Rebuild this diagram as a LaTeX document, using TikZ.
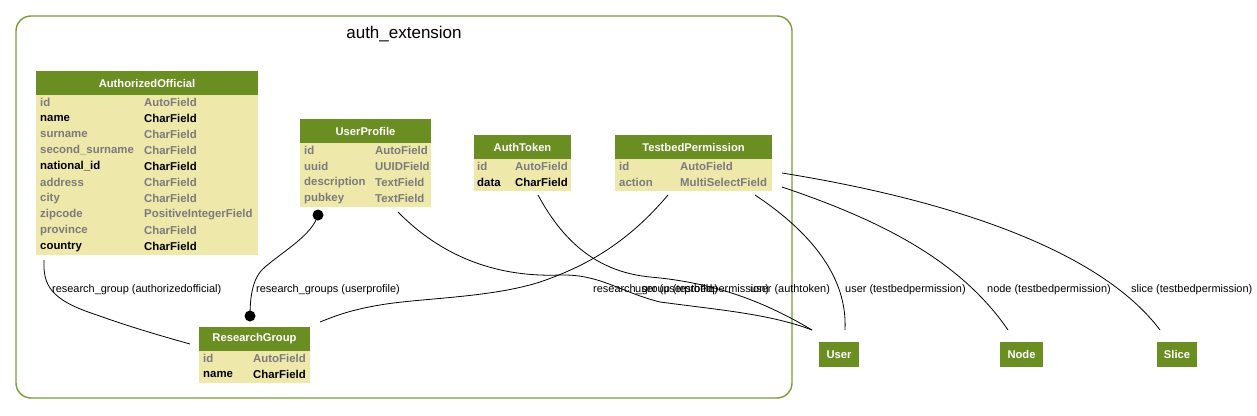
\documentclass[tikz,border=0pt]{standalone}
\usepackage{fontspec}
\setmainfont{Liberation Sans}
\definecolor{hdrgreen}{HTML}{6B8E23}
\definecolor{bodyyel}{HTML}{EEE8AA}
\definecolor{fgray}{HTML}{7B7B7B}
\definecolor{clusgreen}{HTML}{7A9A3A}
\tikzset{
  hdr/.style={fill=hdrgreen, text=white, inner sep=0pt, font=\bfseries\fontsize{11.2}{12}\selectfont},
  tbody/.style={fill=bodyyel, inner sep=0pt, anchor=north},
  fld/.style={anchor=west, inner sep=0pt, font=\bfseries\fontsize{11.4}{12}\selectfont},
  opt/.style={fld, text=fgray},
  req/.style={fld, text=black},
  elabel/.style={anchor=west, inner sep=0pt, font=\fontsize{10.95}{12}\selectfont},
  rel/.style={draw=black, line width=0.8pt},
  dotend/.style={circle, fill=black, inner sep=0pt, minimum size=11pt},
}
\begin{document}
\begin{tikzpicture}[x=1pt,y=-1pt]
\useasboundingbox (0,0) rectangle (1257,415);
% cluster
\node[draw=clusgreen, line width=1.4pt, rounded corners=15pt, minimum width=776pt, minimum height=382pt, inner sep=0pt] (cluster) at (404,207) {};
\node[inner sep=0pt, font=\fontsize{17}{18}\selectfont] (clustertitle) at (404,34) {auth\_extension};

% AuthorizedOfficial
\node[tbody, minimum width=222pt, minimum height=160pt] (aobody) at (147,95) {};
\node[hdr, minimum width=222pt, minimum height=24pt] (ao) at (147,83) {AuthorizedOfficial};
\foreach \n/\t/\s [count=\i] in {id/AutoField/opt, name/CharField/req, surname/CharField/opt, second\_surname/CharField/opt, national\_id/CharField/req, address/CharField/opt, city/CharField/opt, zipcode/PositiveIntegerField/opt, province/CharField/opt, country/CharField/req}{
  \node[\s] (aon\i) at (40,{102.5+16*(\i-1)}) {\n};
  \node[\s] (aot\i) at (144,{102.5+16*(\i-1)}) {\t};
}

% UserProfile
\node[tbody, minimum width=131pt, minimum height=64pt] (upbody) at (365.5,143) {};
\node[hdr, minimum width=131pt, minimum height=24pt] (up) at (365.5,131) {UserProfile};
\foreach \n/\t/\s [count=\i] in {id/AutoField/opt, uuid/UUIDField/opt, description/TextField/opt, pubkey/TextField/opt}{
  \node[\s] (upn\i) at (304,{150.5+16*(\i-1)}) {\n};
  \node[\s] (upt\i) at (375,{150.5+16*(\i-1)}) {\t};
}

% AuthToken
\node[tbody, minimum width=97pt, minimum height=32pt] (atbody) at (522.5,159) {};
\node[hdr, minimum width=97pt, minimum height=24pt] (at) at (522.5,147) {AuthToken};
\foreach \n/\t/\s [count=\i] in {id/AutoField/opt, data/CharField/req}{
  \node[\s] (atn\i) at (477,{166.5+16*(\i-1)}) {\n};
  \node[\s] (att\i) at (515,{166.5+16*(\i-1)}) {\t};
}

% TestbedPermission
\node[tbody, minimum width=157pt, minimum height=32pt] (tpbody) at (693.5,159) {};
\node[hdr, minimum width=157pt, minimum height=24pt] (tp) at (693.5,147) {TestbedPermission};
\foreach \n/\t/\s [count=\i] in {id/AutoField/opt, action/MultiSelectField/opt}{
  \node[\s] (tpn\i) at (619,{166.5+16*(\i-1)}) {\n};
  \node[\s] (tpt\i) at (680,{166.5+16*(\i-1)}) {\t};
}

% ResearchGroup
\node[tbody, minimum width=111pt, minimum height=32pt] (rgbody) at (254.5,351) {};
\node[hdr, minimum width=111pt, minimum height=24pt] (rg) at (254.5,339) {ResearchGroup};
\foreach \n/\t/\s [count=\i] in {id/AutoField/opt, name/CharField/req}{
  \node[\s] (rgn\i) at (203,{358.5+16*(\i-1)}) {\n};
  \node[\s] (rgt\i) at (253,{358.5+16*(\i-1)}) {\t};
}

% external models
\node[hdr, minimum width=40pt, minimum height=25pt] (user) at (839,354.5) {User};
\node[hdr, minimum width=43pt, minimum height=25pt] (node) at (1021.5,354.5) {Node};
\node[hdr, minimum width=40pt, minimum height=25pt] (slice) at (1177,354.5) {Slice};

% connector end points
\coordinate (aoE) at (44,260);
\coordinate (rgW) at (190,344);
\node[dotend] (upDot) at (318,215) {};
\node[dotend] (rgDot) at (250,316) {};
\coordinate (upE) at (398,212);
\coordinate (atE) at (538,195);
\coordinate (tpA) at (668,195);
\coordinate (rgE) at (320,322);
\coordinate (tpB) at (755,195);
\coordinate (tpC) at (782,187);
\coordinate (tpD) at (782,173);
\coordinate (userA) at (812,330);
\coordinate (userB) at (845,330);
\coordinate (nodeN) at (1008,330);
\coordinate (sliceN) at (1160,330);

% connectors
\draw[rel] (aoE) .. controls (43,285) and (50,300) .. (97,315) .. controls (130,327) and (165,337) .. (rgW);
\draw[rel] (rgDot.center) .. controls (250,290) and (255,275) .. (265,267) .. controls (285,250) and (312,235) .. (upDot.center);
\draw[rel] (upE) .. controls (450,265) and (510,277) .. (560,275) .. controls (600,274) and (620,292) .. (660,302) .. controls (720,310) and (770,314) .. (userA);
\draw[rel] (atE) .. controls (565,245) and (600,272) .. (650,277) .. controls (720,283) and (770,305) .. (userA);
\draw[rel] (tpA) .. controls (630,240) and (590,265) .. (540,282) .. controls (490,298) and (420,298) .. (380,305) .. controls (350,310) and (335,316) .. (rgE);
\draw[rel] (tpB) .. controls (800,225) and (848,270) .. (userB);
\draw[rel] (tpC) .. controls (880,220) and (960,260) .. (nodeN);
\draw[rel] (tpD) .. controls (950,200) and (1100,250) .. (sliceN);

% labels
\node[elabel] (l1) at (52,290) {research\_group (authorizedofficial)};
\node[elabel] (l2) at (256,290) {research\_groups (userprofile)};
\node[elabel] (l3) at (593,290) {research\_group (testbedpermission)};
\node[elabel] (l4) at (635,290) {user (userprofile)};
\node[elabel] (l5) at (750,290) {user (authtoken)};
\node[elabel] (l6) at (845,290) {user (testbedpermission)};
\node[elabel] (l7) at (987,290) {node (testbedpermission)};
\node[elabel] (l8) at (1131,290) {slice (testbedpermission)};
\end{tikzpicture}
\end{document}
